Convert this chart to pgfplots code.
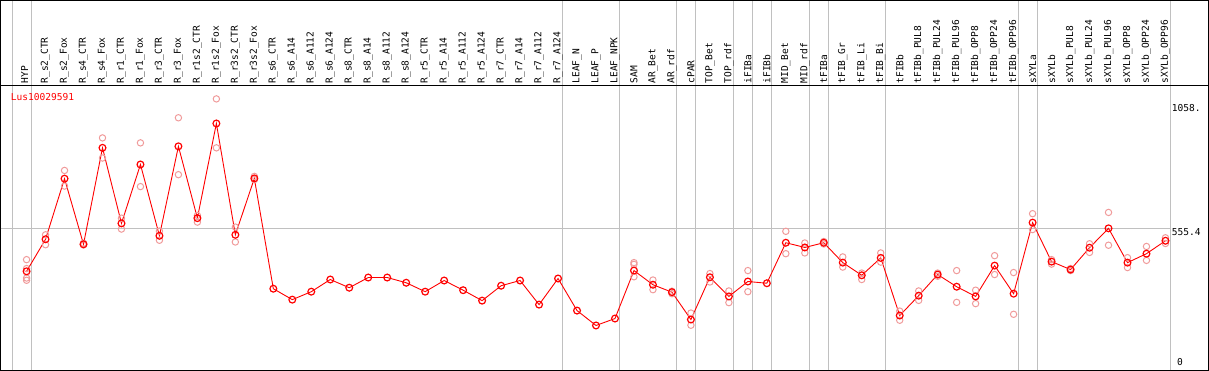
\documentclass[border=0pt]{standalone}
\usepackage{pgfplots}
\pgfplotsset{compat=1.18}
\usepackage{fontspec}
\setmonofont{DejaVu Sans Mono}
\newfontfamily\monof{DejaVu Sans Mono}
\definecolor{grid}{RGB}{192,192,192}
\definecolor{rep}{RGB}{240,155,155}
\tikzset{lab/.style={rotate=90,anchor=west,inner sep=0pt,font=\monof\fontsize{9.6}{10}\selectfont},
 txt/.style={anchor=west,inner sep=0pt,font=\monof\fontsize{9.6}{10}\selectfont}}
\begin{document}
\begin{tikzpicture}
\begin{axis}[scale only axis, width=1209bp, height=370bp,
  xmin=-1.368, xmax=62.263, ymin=-16.08, ymax=1471.6,
  axis line style={black, line width=1.2bp}, xtick=\empty, ytick=\empty, clip=false]
% gridlines
\pgfplotsinvokeforeach{-0.75,0.25,28.25,31.25,34.25,35.25,37.25,38.25,39.25,41.25,42.25,45.25,52.25,53.25,60.25}{
  \draw[grid, line width=1bp] (axis cs:#1,-16.08) -- (axis cs:#1,1471.6);
}
\draw[grid, line width=1bp] (axis cs:-1.368,555.4) -- (axis cs:60.25,555.4);
\draw[black, line width=1.2bp] (axis cs:-1.368,1130) -- (axis cs:62.263,1130);
% replicates
\addplot[only marks, mark=o, mark size=3.2bp, rep, mark options={line width=1bp}] coordinates {
(0,429)(0,393)(0,355)(0,346)
(1,529)(1,489)(2,788)(2,725)(3,495)(3,488)(4,919)(4,838)(5,596)(5,552)
(6,899)(6,723)(7,544)(7,507)(8,1000)(8,771)(9,607)(9,580)(10,1076)(10,879)
(11,560)(11,500)(12,764)(12,751)
(32,417)(32,410)(32,360)(33,347)(33,308)(34,292)(34,302)(35,214)(35,165)
(36,373)(36,339)(37,303)(37,256)(38,385)(38,300)(40,543)(40,453)(41,496)(41,456)
(42,502)(42,492)(43,440)(43,399)(44,375)(44,349)(45,456)(45,419)(46,222)(46,185)
(47,303)(47,265)(48,375)(48,362)(49,385)(49,257)(50,306)(50,252)(51,445)(51,369)
(52,377)(52,209)(53,614)(53,550)(54,429)(54,411)(55,393)(55,385)(56,493)(56,458)
(57,619)(57,487)(58,437)(58,397)(59,482)(59,426)(60,517)(60,494)
};
% means
\addplot[red, line width=0.9bp, mark=o, mark size=3.4bp, mark options={line width=1.2bp, red}] coordinates {
(0,382)(1,511)(2,755)(3,491)(4,879)(5,575)(6,812)(7,525)(8,885)(9,596)
(10,977)(11,529)(12,756)(13,312)(14,268)(15,300)(16,349)(17,316)(18,357)(19,357)
(20,336)(21,300)(22,345)(23,306)(24,264)(25,324)(26,345)(27,248)(28,353)(29,224)
(30,164)(31,192)(32,385)(33,328)(34,298)(35,188)(36,358)(37,281)(38,341)(39,334)
(40,497)(41,478)(42,497)(43,417)(44,366)(45,436)(46,204)(47,284)(48,369)(49,320)
(50,281)(51,405)(52,292)(53,578)(54,421)(55,389)(56,477)(57,555)(58,417)(59,453)
(60,505)
};
% header labels
\node[lab] at (axis cs:-0.1,1138) {HYP};
\node[lab] at (axis cs:1,1138) {R\_s2\_CTR};
\node[lab] at (axis cs:2,1138) {R\_s2\_Fox};
\node[lab] at (axis cs:3,1138) {R\_s4\_CTR};
\node[lab] at (axis cs:4,1138) {R\_s4\_Fox};
\node[lab] at (axis cs:5,1138) {R\_r1\_CTR};
\node[lab] at (axis cs:6,1138) {R\_r1\_Fox};
\node[lab] at (axis cs:7,1138) {R\_r3\_CTR};
\node[lab] at (axis cs:8,1138) {R\_r3\_Fox};
\node[lab] at (axis cs:9,1138) {R\_r1s2\_CTR};
\node[lab] at (axis cs:10,1138) {R\_r1s2\_Fox};
\node[lab] at (axis cs:11,1138) {R\_r3s2\_CTR};
\node[lab] at (axis cs:12,1138) {R\_r3s2\_Fox};
\node[lab] at (axis cs:13,1138) {R\_s6\_CTR};
\node[lab] at (axis cs:14,1138) {R\_s6\_A14};
\node[lab] at (axis cs:15,1138) {R\_s6\_A112};
\node[lab] at (axis cs:16,1138) {R\_s6\_A124};
\node[lab] at (axis cs:17,1138) {R\_s8\_CTR};
\node[lab] at (axis cs:18,1138) {R\_s8\_A14};
\node[lab] at (axis cs:19,1138) {R\_s8\_A112};
\node[lab] at (axis cs:20,1138) {R\_s8\_A124};
\node[lab] at (axis cs:21,1138) {R\_r5\_CTR};
\node[lab] at (axis cs:22,1138) {R\_r5\_A14};
\node[lab] at (axis cs:23,1138) {R\_r5\_A112};
\node[lab] at (axis cs:24,1138) {R\_r5\_A124};
\node[lab] at (axis cs:25,1138) {R\_r7\_CTR};
\node[lab] at (axis cs:26,1138) {R\_r7\_A14};
\node[lab] at (axis cs:27,1138) {R\_r7\_A112};
\node[lab] at (axis cs:28,1138) {R\_r7\_A124};
\node[lab] at (axis cs:29,1138) {LEAF\_N};
\node[lab] at (axis cs:30,1138) {LEAF\_P};
\node[lab] at (axis cs:31,1138) {LEAF\_NPK};
\node[lab] at (axis cs:32,1138) {SAM};
\node[lab] at (axis cs:33,1138) {AR\_Bet};
\node[lab] at (axis cs:34,1138) {AR\_rdf};
\node[lab] at (axis cs:35,1138) {cPAR};
\node[lab] at (axis cs:36,1138) {TOP\_Bet};
\node[lab] at (axis cs:37,1138) {TOP\_rdf};
\node[lab] at (axis cs:38,1138) {iFIBa};
\node[lab] at (axis cs:39,1138) {iFIBb};
\node[lab] at (axis cs:40,1138) {MID\_Bet};
\node[lab] at (axis cs:41,1138) {MID\_rdf};
\node[lab] at (axis cs:42,1138) {tFIBa};
\node[lab] at (axis cs:43,1138) {tFIB\_Gr};
\node[lab] at (axis cs:44,1138) {tFIB\_Li};
\node[lab] at (axis cs:45,1138) {tFIB\_Bi};
\node[lab] at (axis cs:46,1138) {tFIBb};
\node[lab] at (axis cs:47,1138) {tFIBb\_PUL8};
\node[lab] at (axis cs:48,1138) {tFIBb\_PUL24};
\node[lab] at (axis cs:49,1138) {tFIBb\_PUL96};
\node[lab] at (axis cs:50,1138) {tFIBb\_OPP8};
\node[lab] at (axis cs:51,1138) {tFIBb\_OPP24};
\node[lab] at (axis cs:52,1138) {tFIBb\_OPP96};
\node[lab] at (axis cs:53,1138) {sXYLa};
\node[lab] at (axis cs:54,1138) {sXYLb};
\node[lab] at (axis cs:55,1138) {sXYLb\_PUL8};
\node[lab] at (axis cs:56,1138) {sXYLb\_PUL24};
\node[lab] at (axis cs:57,1138) {sXYLb\_PUL96};
\node[lab] at (axis cs:58,1138) {sXYLb\_OPP8};
\node[lab] at (axis cs:59,1138) {sXYLb\_OPP24};
\node[lab] at (axis cs:60,1138) {sXYLb\_OPP96};
% other texts
\node[txt, red] at (axis cs:-0.84,1082) {Lus10029591};
\node[txt] at (axis cs:60.33,1041) {1058.};
\node[txt] at (axis cs:60.33,539) {555.4};
\node[txt] at (axis cs:60.6,16) {0};
\end{axis}
\end{tikzpicture}
\end{document}
